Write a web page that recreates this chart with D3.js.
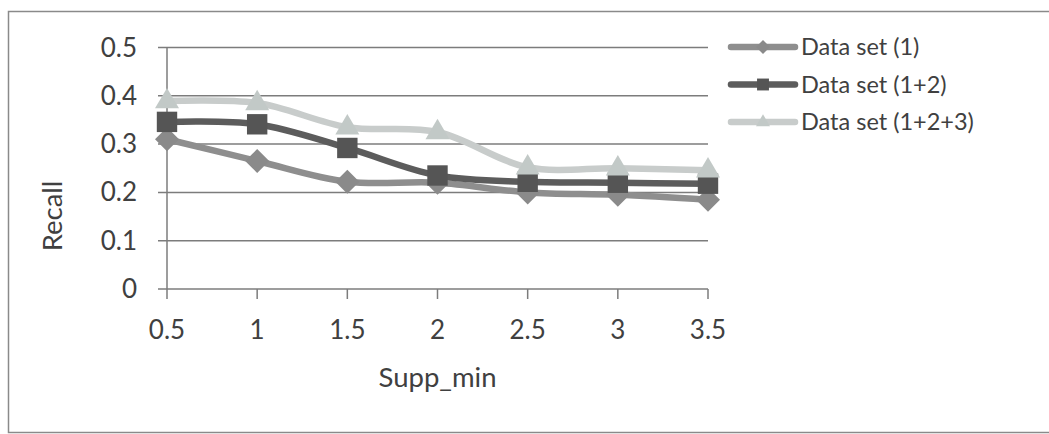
<!DOCTYPE html>
<html>
<head>
<meta charset="utf-8">
<script src="https://cdn.jsdelivr.net/npm/d3@7"></script>
<style>
  html, body { margin: 0; padding: 0; background: #ffffff; }
  svg { display: block; font-family: Lato, "Open Sans", sans-serif; }
</style>
</head>
<body>
<svg id="chart" width="1049" height="434"></svg>
<script>
// Minimum support thresholds along the x axis
const suppMin = [0.5, 1, 1.5, 2, 2.5, 3, 3.5];

// Recall per data-set combination
const recallSet1 = [0.31, 0.265, 0.222, 0.22, 0.2, 0.195, 0.185];
const recallSet12 = [0.346, 0.341, 0.292, 0.235, 0.222, 0.22, 0.218];
const recallSet123 = [0.389, 0.385, 0.335, 0.325, 0.252, 0.25, 0.246];

const seriesNames = ["Data set (1)", "Data set (1+2)", "Data set (1+2+3)"];
const yTicks = [0, 0.1, 0.2, 0.3, 0.4, 0.5];

const series = [
  { name: seriesNames[0], values: recallSet1, line: "#8e8e8e", fill: "#8a8a8a", shape: "diamond" },
  { name: seriesNames[1], values: recallSet12, line: "#5c5c5c", fill: "#555555", shape: "square" },
  { name: seriesNames[2], values: recallSet123, line: "#c8cccb", fill: "#c2c9c7", shape: "triangle" }
];

const svg = d3.select("#chart");

// Outer chart frame
svg.append("rect")
  .attr("x", 8.5).attr("y", 11.5)
  .attr("width", 1060).attr("height", 421)
  .attr("fill", "none").attr("stroke", "#8a8a8a").attr("stroke-width", 1.5);

const x = d3.scaleLinear().domain([0.5, 3.5]).range([167, 708]);
const y = d3.scaleLinear().domain([0, 0.5]).range([289, 47.5]);

// Horizontal gridlines (extend left past the axis like tick marks)
svg.append("g")
  .selectAll("line")
  .data(yTicks)
  .join("line")
  .attr("x1", x(0.5) - 9).attr("x2", x(3.5))
  .attr("y1", d => y(d)).attr("y2", d => y(d))
  .attr("stroke", "#7c7c7c").attr("stroke-width", 1.5);

// Vertical axis line
svg.append("line")
  .attr("x1", x(0.5)).attr("x2", x(0.5))
  .attr("y1", y(0.5)).attr("y2", y(0))
  .attr("stroke", "#7c7c7c").attr("stroke-width", 1.5);

// X tick marks
svg.append("g")
  .selectAll("line")
  .data(suppMin)
  .join("line")
  .attr("x1", d => x(d)).attr("x2", d => x(d))
  .attr("y1", y(0)).attr("y2", y(0) + 10)
  .attr("stroke", "#7c7c7c").attr("stroke-width", 1.5);

// Y tick labels
svg.append("g")
  .selectAll("text")
  .data(yTicks)
  .join("text")
  .attr("x", 137).attr("y", d => y(d) + 9)
  .attr("text-anchor", "end")
  .attr("font-size", 26).attr("fill", "#404040")
  .text(d => d3.format("")(d));

// X tick labels
svg.append("g")
  .selectAll("text")
  .data(suppMin)
  .join("text")
  .attr("x", d => x(d)).attr("y", 339)
  .attr("text-anchor", "middle")
  .attr("font-size", 26).attr("fill", "#404040")
  .text(d => d3.format("")(d));

// Axis titles
svg.append("text")
  .attr("x", x(2)).attr("y", 387)
  .attr("text-anchor", "middle")
  .attr("font-size", 27.5).attr("fill", "#404040")
  .text("Supp_min");

svg.append("text")
  .attr("transform", "translate(62,216) rotate(-90)")
  .attr("text-anchor", "middle")
  .attr("font-size", 27.5).attr("fill", "#404040")
  .text("Recall");

// Marker shapes
function markerPath(shape, s) {
  if (shape === "diamond") return `M0,${-s}L${s},0L0,${s}L${-s},0Z`;
  if (shape === "square") return `M${-s * 0.85},${-s * 0.85}h${s * 1.7}v${s * 1.7}h${-s * 1.7}Z`;
  return `M0,${-s * 1.1}L${s},${s * 0.6}L${-s},${s * 0.6}Z`;
}

const line = d3.line()
  .x((d, i) => x(suppMin[i]))
  .y(d => y(d))
  .curve(d3.curveCatmullRom.alpha(0.5));

series.forEach(s => {
  const g = svg.append("g");
  g.append("path")
    .attr("d", line(s.values))
    .attr("fill", "none")
    .attr("stroke", s.line)
    .attr("stroke-width", 6.5)
    .attr("stroke-linecap", "round")
    .attr("stroke-linejoin", "round");
  g.selectAll("path.mk")
    .data(s.values)
    .join("path")
    .attr("class", "mk")
    .attr("transform", (d, i) => `translate(${x(suppMin[i])},${y(d)})`)
    .attr("d", markerPath(s.shape, 12))
    .attr("fill", s.fill);
});

// Legend
const legend = svg.append("g");
series.forEach((s, i) => {
  const ly = 47 + i * 37.5;
  legend.append("line")
    .attr("x1", 731).attr("x2", 795)
    .attr("y1", ly).attr("y2", ly)
    .attr("stroke", s.line).attr("stroke-width", 6.5)
    .attr("stroke-linecap", "round");
  legend.append("path")
    .attr("transform", `translate(763,${ly})`)
    .attr("d", markerPath(s.shape, 7))
    .attr("fill", s.fill);
  legend.append("text")
    .attr("x", 801).attr("y", ly + 8)
    .attr("font-size", 23.5).attr("fill", "#404040")
    .text(s.name);
});
</script>
</body>
</html>
